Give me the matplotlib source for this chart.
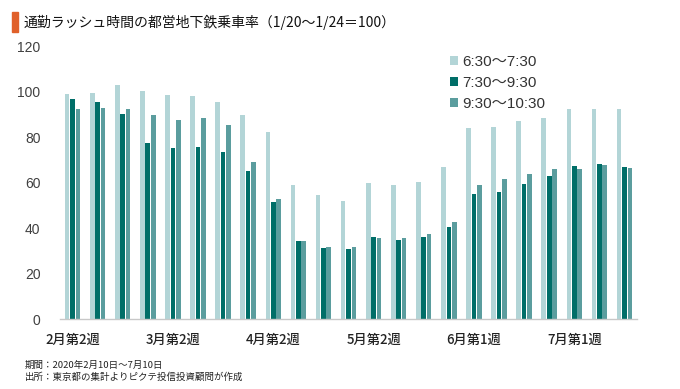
import matplotlib
matplotlib.use("Agg")
import matplotlib.pyplot as plt
import numpy as np
from matplotlib.patches import Rectangle

plt.rcParams['font.family'] = ['Noto Sans CJK JP', 'DejaVu Sans']

weeks = ['2月第2週', '', '', '', '3月第2週', '', '', '', '4月第2週', '', '', '',
         '5月第2週', '', '', '', '6月第1週', '', '', '', '7月第1週', '', '']
series_names = ['6:30～7:30', '7:30～9:30', '9:30～10:30']
early = [99.0, 99.5, 103.0, 100.4, 98.6, 98.4, 95.5, 89.9, 82.3, 59.0, 54.6, 52.0,
         59.8, 59.0, 60.6, 66.8, 84.0, 84.5, 87.2, 88.6, 92.7, 92.3, 92.3]
peak = [96.8, 95.8, 90.5, 77.5, 75.2, 75.9, 73.5, 65.3, 51.6, 34.4, 31.3, 30.9,
        36.0, 34.7, 36.2, 40.6, 55.2, 56.1, 59.5, 62.9, 67.4, 68.1, 67.1]
late = [92.3, 92.9, 92.4, 89.8, 87.7, 88.6, 85.4, 69.1, 52.7, 34.4, 31.6, 31.8,
        35.7, 35.6, 37.6, 42.9, 58.9, 61.7, 63.9, 66.1, 66.1, 67.7, 66.6]
colors = ['#b3d5d7', '#006e68', '#5b9d9e']

fig = plt.figure(figsize=(6.8, 3.89), dpi=100)
ax = fig.add_axes([60/680, 1-319.3/389, 577/680, (319.3-46.5)/389])

x = np.arange(len(weeks))
w = 0.185
off = 0.215
for i, (vals, c, name) in enumerate(zip([early, peak, late], colors, series_names)):
    ax.bar(x + (i-1)*off, vals, width=w, color=c, label=name, edgecolor='none')

ax.set_xlim(-0.5, len(weeks)-0.5)
ax.set_ylim(0, 120)
ax.set_yticks(range(0, 121, 20))
ax.set_xticks(x)
ax.set_xticklabels(weeks, fontsize=9.5, color='#222222', fontweight='medium')
ax.tick_params(axis='y', length=0, pad=14, labelsize=10, labelcolor='#404040')
ax.tick_params(axis='x', length=0, pad=10)
for lab in ax.get_yticklabels():
    lab.set_family(['Liberation Sans', 'DejaVu Sans'])
for s in ['top', 'right', 'left']:
    ax.spines[s].set_visible(False)
ax.spines['bottom'].set_color('#c8c8c8')
ax.spines['bottom'].set_linewidth(1.0)

leg = fig.legend(loc='upper left', bbox_to_anchor=(450/680, 1-55/389), frameon=False,
                 handlelength=0.55, handleheight=0.55, handletextpad=0.25,
                 labelspacing=0.45, borderaxespad=0, borderpad=0,
                 prop={'family': ['Liberation Sans', 'Noto Sans CJK JP'], 'size': 11})
for t in leg.get_texts():
    t.set_color('#333333')

fig.patches.append(Rectangle((12/680, 1-32/389), 6/680, 20/389, transform=fig.transFigure,
                             color='#e0602a', zorder=5))
fig.text(24/680, 1-22/389, '通勤ラッシュ時間の都営地下鉄乗車率（1/20～1/24＝100）',
         fontsize=10, va='center', ha='left', color='#111111')

fig.text(25/680, 1-365.5/389, '期間：2020年2月10日～7月10日', fontsize=6.8, va='center', ha='left', color='#222222')
fig.text(25/680, 1-377.5/389, '出所：東京都の集計よりピクテ投信投資顧問が作成', fontsize=6.8, va='center', ha='left', color='#222222')

fig.savefig('out.png', dpi=100)
